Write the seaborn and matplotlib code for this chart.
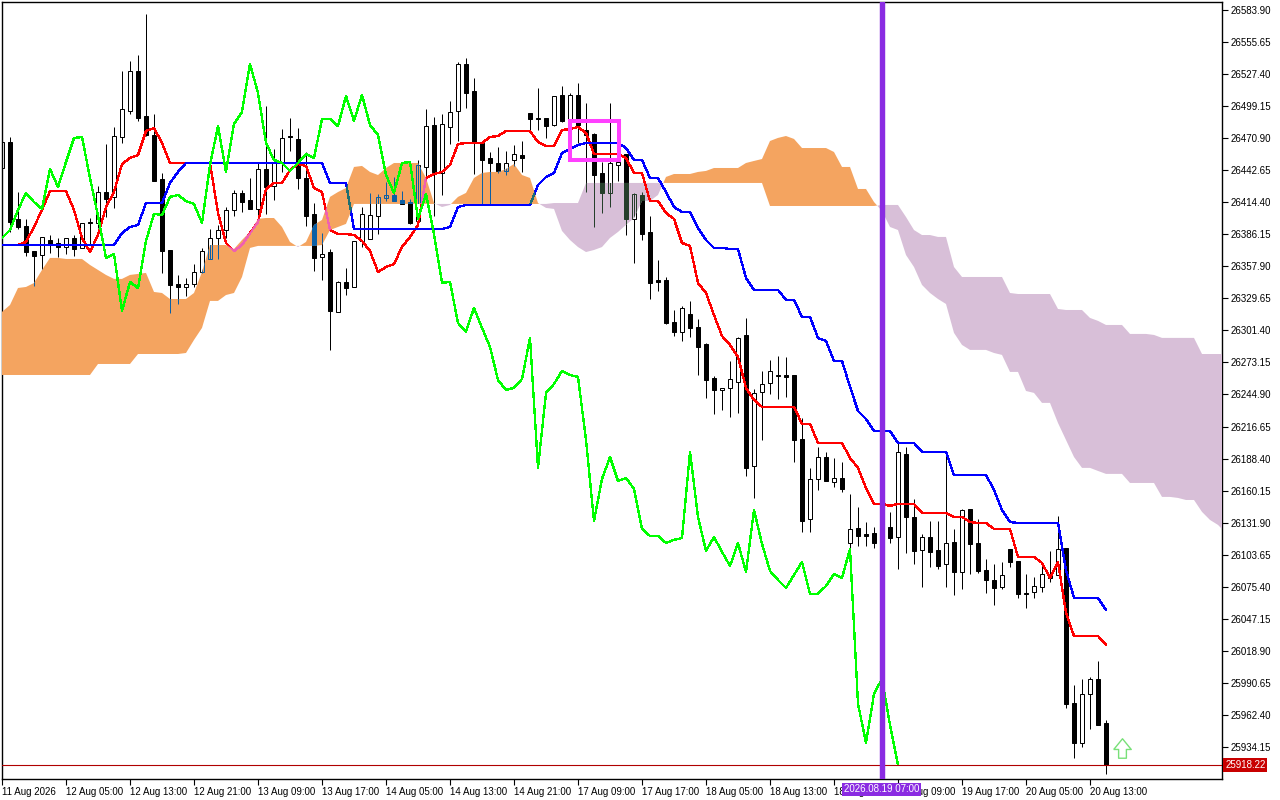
import matplotlib
matplotlib.use("Agg")
import matplotlib.pyplot as plt
from matplotlib.patches import Rectangle
from matplotlib.path import Path
import numpy as np
import pandas as pd
import seaborn as sns

# H1 candles, one row of each list per bar
open_px = [
    26444.6, 26467.5, 26399.7, 26393.5, 26371.4, 26367.9, 26381.1, 26378.5, 26374.9, 26382.9,
    26374.1, 26397.0, 26396.1, 26423.4, 26419.1, 26471.9, 26494.9, 26530.1, 26490.4, 26473.7,
    26434.9, 26372.3, 26342.4, 26339.7, 26342.4, 26352.9, 26364.4, 26382.9, 26389.9, 26407.6,
    26422.6, 26416.4, 26408.5, 26443.7, 26428.7, 26449.0, 26472.8, 26470.2, 26435.8, 26404.1,
    26366.1, 26370.5, 26317.7, 26344.1, 26339.7, 26380.3, 26382.0, 26402.3, 26418.2, 26420.8,
    26416.4, 26414.6, 26397.9, 26445.5, 26482.5, 26440.2, 26480.8, 26494.9, 26536.3, 26512.5,
    26466.6, 26453.4, 26449.0, 26442.0, 26451.7, 26456.1, 26493.1, 26488.7, 26488.7, 26482.5,
    26509.0, 26485.2, 26509.0, 26478.1, 26474.6, 26440.2, 26422.6, 26447.2, 26456.9, 26399.7,
    26420.8, 26388.2, 26345.9, 26345.9, 26308.9, 26300.1, 26315.9, 26304.5, 26289.5, 26259.5,
    26248.9, 26250.7, 26256.0, 26297.4, 26181.9, 26247.2, 26255.1, 26261.3, 26262.1, 26262.1,
    26205.7, 26135.2, 26170.5, 26189.8, 26167.8, 26171.3, 26114.0, 26127.2, 26121.9, 26122.8,
    26121.1, 26128.1, 26119.3, 26192.5, 26137.0, 26107.9, 26119.3, 26107.9, 26095.5, 26114.9,
    26088.5, 26144.0, 26114.0, 26090.2, 26081.4, 26075.2, 26108.8, 26098.2, 26069.9, 26070.8,
    26075.2, 26086.7, 26085.8, 26109.6, 25973.0, 25937.7, 25980.9, 25994.2, 25955.4,
]
high_px = [
    26471.1, 26471.9, 26423.4, 26399.7, 26371.4, 26383.8, 26385.5, 26382.9, 26382.9, 26385.5,
    26396.1, 26400.5, 26428.7, 26465.8, 26480.8, 26530.1, 26538.9, 26544.2, 26580.4, 26492.2,
    26440.2, 26372.3, 26350.3, 26347.6, 26360.0, 26374.1, 26390.8, 26394.4, 26410.2, 26425.2,
    26425.2, 26435.8, 26449.0, 26499.3, 26461.4, 26479.0, 26488.7, 26479.9, 26458.7, 26413.7,
    26387.3, 26373.2, 26345.0, 26356.5, 26380.3, 26410.2, 26422.6, 26421.7, 26432.3, 26436.7,
    26424.3, 26417.3, 26451.7, 26496.6, 26489.6, 26492.2, 26503.7, 26538.0, 26541.6, 26523.9,
    26466.6, 26458.7, 26463.1, 26459.6, 26464.9, 26468.4, 26493.1, 26515.1, 26488.7, 26508.1,
    26516.9, 26510.7, 26519.5, 26501.9, 26475.5, 26449.9, 26501.9, 26451.7, 26456.9, 26422.6,
    26423.4, 26402.3, 26363.5, 26348.5, 26319.4, 26322.9, 26327.4, 26311.5, 26290.3, 26261.3,
    26250.7, 26274.5, 26295.6, 26312.4, 26249.8, 26265.6, 26275.4, 26278.9, 26278.0, 26262.1,
    26224.2, 26180.2, 26198.6, 26194.2, 26188.9, 26185.4, 26157.3, 26145.8, 26132.5, 26128.1,
    26128.1, 26141.4, 26202.2, 26198.6, 26152.8, 26122.0, 26133.4, 26133.4, 26193.3, 26126.4,
    26144.0, 26144.0, 26135.2, 26099.9, 26095.5, 26097.3, 26108.8, 26098.2, 26086.7, 26084.1,
    26096.4, 26107.0, 26137.9, 26109.6, 25988.9, 25994.2, 25995.9, 26010.0, 25958.0,
]
low_px = [
    26442.8, 26388.2, 26390.8, 26367.0, 26340.6, 26355.6, 26369.7, 26366.1, 26368.8, 26367.0,
    26374.1, 26376.7, 26391.7, 26401.4, 26409.4, 26466.6, 26492.2, 26486.0, 26472.8, 26433.1,
    26352.1, 26316.6, 26324.7, 26331.8, 26339.7, 26352.1, 26364.4, 26364.4, 26382.9, 26402.3,
    26405.8, 26408.5, 26398.8, 26404.1, 26416.4, 26441.0, 26459.6, 26426.1, 26393.5, 26353.8,
    26345.9, 26284.2, 26317.7, 26332.6, 26339.7, 26374.9, 26382.0, 26386.4, 26415.5, 26415.5,
    26412.9, 26395.3, 26397.0, 26436.7, 26402.3, 26420.8, 26465.8, 26468.4, 26497.5, 26439.3,
    26412.9, 26412.9, 26440.2, 26438.4, 26446.4, 26441.0, 26478.1, 26478.1, 26471.1, 26481.6,
    26485.2, 26482.5, 26466.6, 26423.4, 26392.6, 26404.9, 26410.2, 26433.1, 26385.5, 26360.9,
    26381.1, 26329.1, 26336.2, 26307.1, 26296.5, 26292.1, 26295.6, 26262.1, 26241.9, 26227.8,
    26231.3, 26225.1, 26228.6, 26173.1, 26153.7, 26204.8, 26245.4, 26241.0, 26242.8, 26185.4,
    26123.7, 26123.7, 26160.8, 26168.7, 26163.4, 26159.0, 26108.8, 26111.4, 26111.4, 26109.6,
    26103.5, 26114.0, 26091.1, 26105.3, 26095.5, 26075.2, 26092.9, 26091.1, 26075.2, 26068.2,
    26073.5, 26086.7, 26087.6, 26069.9, 26059.4, 26073.5, 26092.9, 26065.6, 26056.7, 26065.6,
    26070.8, 26079.7, 26085.8, 25968.6, 25924.5, 25934.2, 25950.1, 25953.6, 25910.4,
]
close_px = [
    26467.5, 26397.0, 26392.6, 26370.5, 26367.0, 26383.8, 26376.7, 26374.9, 26382.5, 26373.2,
    26396.1, 26396.1, 26423.4, 26417.3, 26472.8, 26496.6, 26530.1, 26488.7, 26473.7, 26433.1,
    26371.4, 26341.5, 26339.7, 26342.4, 26352.9, 26371.4, 26382.9, 26389.9, 26407.6, 26422.6,
    26414.6, 26408.5, 26443.7, 26427.8, 26449.9, 26471.1, 26471.9, 26435.8, 26402.3, 26365.3,
    26368.8, 26318.6, 26344.1, 26338.8, 26380.3, 26404.1, 26403.2, 26419.1, 26420.8, 26415.5,
    26412.9, 26396.1, 26447.2, 26481.6, 26441.1, 26483.4, 26494.0, 26536.3, 26510.7, 26466.6,
    26451.7, 26449.0, 26442.0, 26449.0, 26456.9, 26453.4, 26487.8, 26487.8, 26481.6, 26508.1,
    26486.0, 26509.0, 26482.5, 26473.7, 26438.4, 26422.6, 26449.0, 26449.9, 26399.7, 26421.7,
    26386.4, 26343.3, 26344.1, 26308.0, 26300.1, 26321.2, 26303.6, 26286.8, 26257.7, 26248.9,
    26250.7, 26258.6, 26294.7, 26180.2, 26246.3, 26254.2, 26265.6, 26262.1, 26260.4, 26204.8,
    26133.4, 26170.5, 26189.8, 26168.7, 26171.3, 26161.6, 26126.4, 26120.2, 26120.2, 26114.0,
    26116.7, 26118.4, 26194.3, 26137.0, 26107.0, 26119.3, 26106.1, 26093.8, 26114.0, 26088.4,
    26143.1, 26113.2, 26089.3, 26081.4, 26074.3, 26085.8, 26097.3, 26069.1, 26069.1, 26076.1,
    26086.7, 26083.2, 26108.8, 25972.2, 25937.7, 25980.9, 25994.2, 25953.6, 25918.22,
]

# ichimoku lines
tenkan = [
    26376.7, 26376.7, 26376.7, 26379.4, 26392.6, 26407.6, 26424.3, 26424.3, 26424.3, 26407.6,
    26382.9, 26370.5, 26385.5, 26410.2, 26423.4, 26448.1, 26453.4, 26456.1, 26477.2, 26479.9,
    26466.6, 26449.0, 26449.0, 26449.0, 26449.0, 26449.0, 26449.0, 26404.9, 26378.5, 26371.4,
    26376.7, 26387.3, 26397.0, 26426.1, 26431.4, 26431.4, 26442.8, 26448.1, 26446.4, 26426.9,
    26423.4, 26389.9, 26386.4, 26386.4, 26385.5, 26380.3, 26371.4, 26352.9, 26357.3, 26360.0,
    26374.9, 26383.8, 26394.4, 26435.8, 26439.3, 26441.1, 26447.2, 26465.8, 26466.6, 26466.6,
    26466.6, 26471.9, 26472.8, 26477.2, 26477.2, 26477.2, 26477.2, 26467.5, 26464.0, 26464.0,
    26478.1, 26479.0, 26480.8, 26475.5, 26457.0, 26457.0, 26457.0, 26457.0, 26453.4, 26440.2,
    26440.2, 26415.5, 26415.5, 26404.9, 26399.7, 26378.5, 26375.9, 26343.2, 26334.4, 26315.0,
    26296.5, 26288.6, 26278.0, 26250.7, 26240.1, 26233.9, 26233.9, 26233.9, 26233.9, 26233.9,
    26219.0, 26219.0, 26202.2, 26202.2, 26202.2, 26202.2, 26188.9, 26180.2, 26162.5, 26148.4,
    26148.4, 26146.7, 26148.4, 26148.4, 26148.4, 26140.5, 26140.5, 26140.5, 26140.5, 26137.0,
    26137.0, 26132.5, 26131.6, 26131.6, 26126.4, 26126.4, 26126.4, 26101.7, 26101.7, 26101.7,
    26096.4, 26083.2, 26097.3, 26052.3, 26032.0, 26032.0, 26032.0, 26032.0, 26024.1,
]
kijun = [
    26376.7, 26376.7, 26376.7, 26376.7, 26376.7, 26376.7, 26376.7, 26376.7, 26376.7, 26376.7,
    26376.7, 26376.7, 26376.7, 26376.7, 26376.7, 26387.3, 26392.6, 26394.4, 26413.7, 26413.7,
    26413.7, 26431.4, 26441.1, 26449.0, 26449.0, 26449.0, 26449.0, 26449.0, 26449.0, 26449.0,
    26449.0, 26449.0, 26449.0, 26449.0, 26449.0, 26449.0, 26449.0, 26449.0, 26449.0, 26449.0,
    26449.0, 26431.4, 26431.4, 26431.4, 26390.8, 26390.8, 26390.8, 26390.8, 26390.8, 26390.8,
    26390.8, 26390.8, 26390.8, 26390.8, 26390.8, 26390.8, 26392.6, 26410.2, 26412.0, 26412.0,
    26412.0, 26412.0, 26412.0, 26412.0, 26412.0, 26412.0, 26412.0, 26429.6, 26436.7, 26440.2,
    26457.8, 26461.4, 26464.9, 26466.6, 26466.6, 26466.6, 26466.6, 26466.6, 26462.2, 26451.7,
    26451.7, 26435.8, 26435.8, 26423.4, 26410.2, 26405.8, 26405.8, 26391.7, 26381.1, 26374.1,
    26374.1, 26373.2, 26373.2, 26347.6, 26337.1, 26337.1, 26337.1, 26337.1, 26328.3, 26328.3,
    26313.3, 26313.3, 26294.7, 26292.1, 26274.5, 26274.5, 26251.6, 26230.4, 26223.3, 26212.8,
    26212.8, 26212.8, 26202.2, 26202.2, 26202.2, 26194.3, 26194.3, 26194.3, 26194.3, 26173.9,
    26173.9, 26173.9, 26173.9, 26173.9, 26160.8, 26143.1, 26132.5, 26131.6, 26131.6, 26131.6,
    26131.6, 26131.6, 26131.6, 26090.2, 26065.6, 26065.6, 26065.6, 26065.6, 26055.0,
]
chikou = [
    26382.9, 26389.9, 26407.6, 26422.6,
    26414.6, 26408.5, 26443.7, 26427.8, 26449.9, 26471.1, 26471.9, 26435.8, 26402.3, 26365.3,
    26368.8, 26318.6, 26344.1, 26338.8, 26380.3, 26404.1, 26403.2, 26419.1, 26420.8, 26415.5,
    26412.9, 26396.1, 26447.2, 26481.6, 26441.1, 26483.4, 26494.0, 26536.3, 26510.7, 26466.6,
    26451.7, 26449.0, 26442.0, 26449.0, 26456.9, 26453.4, 26487.8, 26487.8, 26481.6, 26508.1,
    26486.0, 26509.0, 26482.5, 26473.7, 26438.4, 26422.6, 26449.0, 26449.9, 26399.7, 26421.7,
    26386.4, 26343.3, 26344.1, 26308.0, 26300.1, 26321.2, 26303.6, 26286.8, 26257.7, 26248.9,
    26250.7, 26258.6, 26294.7, 26180.2, 26246.3, 26254.2, 26265.6, 26262.1, 26260.4, 26204.8,
    26133.4, 26170.5, 26189.8, 26168.7, 26171.3, 26161.6, 26126.4, 26120.2, 26120.2, 26114.0,
    26116.7, 26118.4, 26194.3, 26137.0, 26107.0, 26119.3, 26106.1, 26093.8, 26114.0, 26088.4,
    26143.1, 26113.2, 26089.3, 26081.4, 26074.3, 26085.8, 26097.3, 26069.1, 26069.1, 26076.1,
    26086.7, 26083.2, 26108.8, 25972.2, 25937.7, 25980.9, 25994.2, 25953.6, 25918.22,
]
span_a = [
    26317.7, 26323.8, 26338.8, 26339.7, 26343.2, 26354.7, 26365.3, 26365.3, 26364.4, 26364.4,
    26364.4, 26359.1, 26354.7, 26350.3, 26346.8, 26346.8, 26350.3, 26351.2, 26352.1, 26335.3,
    26334.4, 26329.1, 26329.1, 26329.1, 26334.4, 26352.9, 26376.7, 26376.7, 26376.7, 26373.2,
    26381.1, 26388.2, 26399.7, 26400.5, 26400.5, 26392.6, 26379.4, 26374.9, 26379.4, 26394.4,
    26398.8, 26419.1, 26423.4, 26426.9, 26445.5, 26446.4, 26441.1, 26438.4, 26444.6, 26449.0,
    26449.0, 26449.0, 26449.0, 26435.8, 26413.7, 26410.2, 26412.0, 26419.1, 26422.6, 26435.8,
    26440.2, 26441.1, 26441.1, 26443.7, 26448.1, 26438.4, 26435.8, 26413.7, 26409.4, 26408.5,
    26389.1, 26381.1, 26374.9, 26370.5, 26372.3, 26374.9, 26382.9, 26388.2, 26394.4, 26400.5,
    26415.5, 26415.5, 26420.8, 26436.7, 26439.3, 26439.3, 26439.3, 26441.1, 26442.0, 26444.6,
    26444.6, 26444.6, 26444.6, 26449.0, 26450.8, 26452.5, 26468.4, 26471.1, 26472.8, 26470.2,
    26462.2, 26462.2, 26462.2, 26462.2, 26458.7, 26445.5, 26445.5, 26426.1, 26426.1, 26414.6,
    26406.7, 26392.6, 26389.9, 26367.9, 26357.3, 26341.5, 26334.4, 26329.1, 26324.7, 26299.2,
    26288.6, 26284.2, 26284.2, 26284.2, 26281.5, 26279.8, 26264.8, 26264.8, 26248.0, 26246.3,
    26237.5, 26237.5, 26219.8, 26204.8, 26189.8, 26180.2, 26180.2, 26177.5, 26174.9, 26174.9,
    26174.9, 26166.9, 26166.9, 26166.9, 26166.9, 26154.6, 26154.6, 26153.7, 26151.9, 26151.9,
    26141.4, 26134.3, 26129.9, 26122.8,
]
span_b = [
    26262.1, 26262.1, 26262.1, 26262.1, 26262.1, 26262.1, 26262.1, 26262.1, 26262.1, 26262.1,
    26262.1, 26262.1, 26271.8, 26271.8, 26271.8, 26271.8, 26271.8, 26280.6, 26280.6, 26280.6,
    26280.6, 26280.6, 26280.6, 26281.5, 26293.0, 26303.6, 26327.4, 26327.4, 26332.6, 26334.4,
    26348.5, 26374.1, 26375.9, 26375.9, 26375.9, 26375.9, 26375.9, 26375.9, 26375.9, 26375.9,
    26376.7, 26389.9, 26392.6, 26395.3, 26412.9, 26412.9, 26412.9, 26412.9, 26412.9, 26412.9,
    26412.9, 26412.9, 26412.9, 26412.9, 26412.9, 26412.9, 26412.9, 26412.9, 26412.9, 26412.9,
    26412.9, 26412.9, 26412.9, 26412.9, 26412.9, 26412.9, 26412.9, 26412.9, 26412.9, 26413.7,
    26413.7, 26413.7, 26413.7, 26431.4, 26431.4, 26431.4, 26431.4, 26431.4, 26431.4, 26431.4,
    26431.4, 26431.4, 26431.4, 26431.4, 26431.4, 26431.4, 26431.4, 26431.4, 26431.4, 26431.4,
    26431.4, 26431.4, 26431.4, 26431.4, 26431.4, 26431.4, 26411.1, 26411.1, 26411.1, 26411.1,
    26411.1, 26411.1, 26411.1, 26411.1, 26411.1, 26411.1, 26411.1, 26411.1, 26411.1, 26411.1,
    26412.0, 26412.0, 26412.0, 26401.4, 26389.9, 26385.5, 26385.5, 26383.8, 26383.8, 26357.3,
    26348.5, 26348.5, 26348.5, 26348.5, 26348.5, 26348.5, 26334.4, 26333.5, 26333.5, 26333.5,
    26333.5, 26333.5, 26320.3, 26319.4, 26319.4, 26319.4, 26312.4, 26309.8, 26306.2, 26306.2,
    26306.2, 26298.3, 26298.3, 26298.3, 26297.4, 26294.8, 26294.8, 26294.8, 26294.8, 26294.8,
    26280.6, 26280.6, 26280.6, 26280.6,
]

price_ticks = [
    26583.90, 26555.65, 26527.40, 26499.15, 26470.90, 26442.65, 26414.40, 26386.15,
    26357.90, 26329.65, 26301.40, 26273.15, 26244.90, 26216.65, 26188.40, 26160.15,
    26131.90, 26103.65, 26075.40, 26047.15, 26018.90, 25990.65, 25962.40, 25934.15,
]
time_labels = [
    "11 Aug 2026", "12 Aug 05:00", "12 Aug 13:00", "12 Aug 21:00", "13 Aug 09:00", "13 Aug 17:00",
    "14 Aug 05:00", "14 Aug 13:00", "14 Aug 21:00", "17 Aug 09:00", "17 Aug 17:00", "18 Aug 05:00",
    "18 Aug 13:00", "18 Aug 21:00", "19 Aug 09:00", "19 Aug 17:00", "20 Aug 05:00", "20 Aug 13:00",
]
last_price = 25918.22
marked_bar = 110
marked_label = "2026.08.19 07:00"
box_bars = (71, 77.1)
box_prices = (26451.7, 26486.0)
signal_bar = 140
signal_price = 25933.3

sns.set_theme(style="white")
plt.rcParams["font.family"] = ["Liberation Sans", "DejaVu Sans"]

df = pd.DataFrame({"open": open_px, "high": high_px, "low": low_px, "close": close_px})
df["bar"] = df.index
bull = df[df["close"] >= df["open"]]
bear = df[df["close"] < df["open"]]

fig = plt.figure(figsize=(12.8, 8), dpi=100, facecolor="white")
ax = fig.add_axes([2 / 1280, 1 - 779 / 800, 1220 / 1280, 777 / 800])


def draw_candles(edge, bull_fill, bear_fill, z, clip=None):
    wicks = ax.vlines(df["bar"], df["low"], df["high"], color=edge, lw=0.72, zorder=z)
    wicks.set_snap(True)
    items = [wicks]
    for part, fill in ((bull, bull_fill), (bear, bear_fill)):
        bars = ax.bar(part["bar"], (part["close"] - part["open"]).abs(), bottom=part[["open", "close"]].min(axis=1),
                      width=0.5, facecolor=fill, edgecolor=edge, linewidth=0.72, zorder=z + 0.1)
        items.extend(bars.patches)
    if clip is not None:
        for item in items:
            item.set_clip_path(clip, ax.transData)


def draw_line(values, color, z, clip=None):
    sns.lineplot(x=np.arange(len(values)), y=values, color=color, linewidth=0.95, errorbar=None,
                 zorder=z, ax=ax, antialiased=False)
    if clip is not None:
        ax.lines[-1].set_clip_path(clip, ax.transData)


draw_candles("black", "white", "black", 2)

# cloud sits on top of the candles, mt5 mixes the colours where they overlap
cloud_x = np.arange(len(span_a))
a = np.array(span_a)
b = np.array(span_b)
up = ax.fill_between(cloud_x, a, b, where=a >= b, interpolate=True, color="#f4a460", lw=0, zorder=3)
down = ax.fill_between(cloud_x, a, b, where=a < b, interpolate=True, color="#d8bfd8", lw=0, zorder=3)
up_clip = Path.make_compound_path(*up.get_paths())
down_clip = Path.make_compound_path(*down.get_paths())

draw_candles("#0b5fa5", "none", "#0b5fa5", 4, up_clip)
draw_candles("#263f2b", "none", "#263f2b", 4, down_clip)

draw_line(tenkan, "#ff0000", 5)
draw_line(kijun, "#0000ff", 5.1)
draw_line(chikou, "#00ff00", 5.2)
draw_line(tenkan, "#f060b0", 5.15, up_clip)
draw_line(kijun, "#1f6f70", 5.15, up_clip)

ax.axhline(last_price, color="#b00000", lw=0.8, zorder=6)
ax.axvline(marked_bar, color="#8a2be2", lw=3.9, zorder=7)
ax.add_patch(Rectangle((box_bars[0], box_prices[0]), box_bars[1] - box_bars[0], box_prices[1] - box_prices[0],
                       fill=False, edgecolor="#ff40ff", lw=2.9, zorder=8, joinstyle="miter"))

arrow = Path([(-0.45, -0.05), (0, 0.5), (0.45, -0.05), (0.2, -0.05), (0.2, -0.5), (-0.2, -0.5), (-0.2, -0.05), (-0.45, -0.05)])
ax.plot(signal_bar, signal_price, marker=arrow, ms=14, mfc="white", mec="#78e078", mew=1.0, zorder=8, ls="none")

ax.set_xlim(0, 152.5)
ax.set_ylim(25905.9, 26590.94)
ax.set_xlabel("")
ax.set_ylabel("")

ax.yaxis.tick_right()
ax.set_yticks(price_ticks, [f"{p:.2f}" for p in price_ticks])
ax.set_xticks(np.arange(len(time_labels)) * 8, time_labels, ha="left")
ax.tick_params(axis="y", right=True, left=False, length=4, width=0.8, pad=2, labelsize=7, colors="black")
ax.tick_params(axis="x", bottom=True, length=4, width=0.8, pad=2, labelsize=7, colors="black")
for side in ax.spines.values():
    side.set_color("black")
    side.set_linewidth(1.0)

ax.text(1.0026, last_price, f"{last_price:.2f}", transform=ax.get_yaxis_transform(), color="white", fontsize=7,
        va="center", ha="left", clip_on=False, zorder=9,
        bbox=dict(boxstyle="square,pad=0.2", facecolor="#c80000", edgecolor="none"))
fig.text(881.5 / 1280, 1 - 789.5 / 800, marked_label, color="white", fontsize=7, va="center", ha="center", zorder=9,
         bbox=dict(boxstyle="square,pad=0.18", facecolor="#8a2be2", edgecolor="none"))

fig.savefig("out.png", dpi=100, facecolor="white")
